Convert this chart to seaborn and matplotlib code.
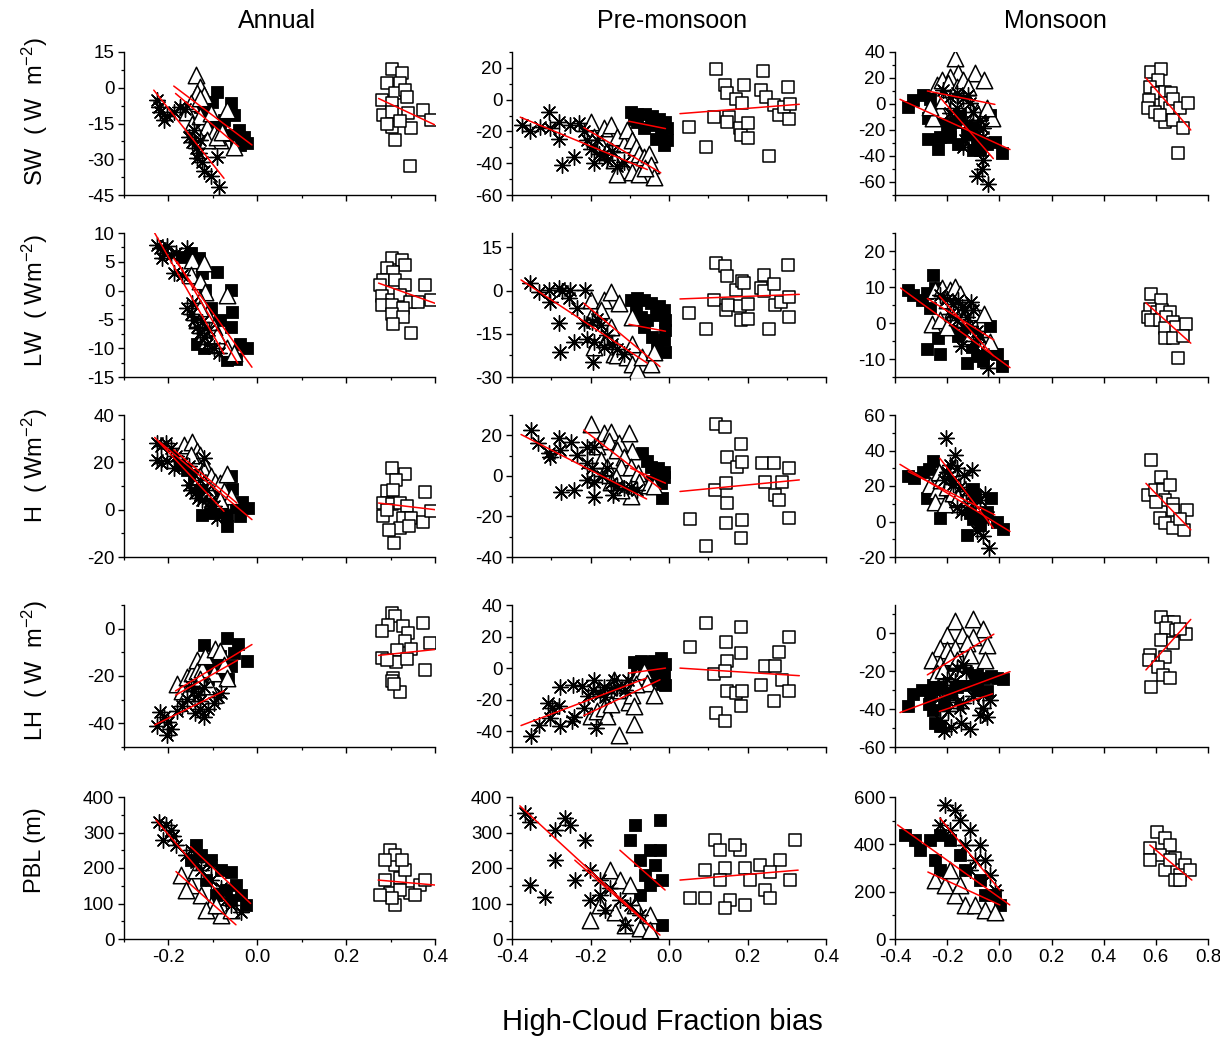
import numpy as np
import pandas as pd
import matplotlib
matplotlib.use("Agg")
import matplotlib.pyplot as plt
import seaborn as sns
from matplotlib.ticker import FixedLocator, AutoMinorLocator, NullLocator, FormatStrFormatter, NullFormatter

# ---------------- data (x = high-cloud fraction bias, y = bias of variable) ----------------
# groups: ast = asterisks, fsq = filled squares, tri = open triangles, osq = open squares
# fits: regression line end points, order ast, fsq, tri, osq

sw_ann_ast = [(-0.225,-5),(-0.218,-10),(-0.210,-13.5),(-0.203,-12),(-0.221,-8),(-0.188,-10),(-0.173,-8),(-0.162,-9),(-0.154,-20.5),(-0.147,-22.6),(-0.139,-25.4),(-0.132,-27.5),(-0.135,-29.6),(-0.124,-31),(-0.120,-35),(-0.105,-37),(-0.090,-29),(-0.087,-41.5),(-0.143,-17.7),(-0.128,-22)]
sw_ann_fsq = [(-0.090,-1.7),(-0.060,-6.6),(-0.053,-11.4),(-0.042,-17.7),(-0.031,-20.5),(-0.023,-23.3),(-0.128,-8),(-0.113,-12),(-0.098,-15.6),(-0.083,-17),(-0.068,-19.8),(-0.049,-22),(-0.038,-24),(-0.12,-10),(-0.102,-5.9),(-0.075,-13.5)]
sw_ann_tri = [(-0.139,5.3),(-0.128,0.4),(-0.135,-2.4),(-0.120,-3),(-0.150,-6.6),(-0.158,-10),(-0.147,-15),(-0.128,-12),(-0.113,-16.3),(-0.098,-19),(-0.083,-22),(-0.068,-9.3),(-0.053,-24.7),(-0.135,-19),(-0.113,-22),(-0.090,-20.5),(-0.128,-4.5),(-0.105,-10.7),(-0.079,-18.4)]
sw_ann_osq = [(0.303,7.7),(0.325,6),(0.291,1.8),(0.321,2),(0.310,-2),(0.333,-1),(0.280,-5),(0.303,-6.6),(0.336,-4),(0.284,-11.4),(0.303,-10),(0.340,-10.7),(0.374,-9.3),(0.392,-13.5),(0.303,-16.3),(0.347,-17),(0.310,-22),(0.344,-32.8),(0.321,-14),(0.291,-15)]
sw_ann_fits = [((-0.233,-1),(-0.075,-38)),((-0.188,0.7),(-0.012,-24)),((-0.184,-2.4),(-0.042,-24.7)),((0.273,-4.5),(0.4,-15.6))]

sw_pre_ast = [(-0.374,-16),(-0.353,-20),(-0.328,-17),(-0.306,-7.7),(-0.302,-18),(-0.281,-14),(-0.281,-24.5),(-0.272,-41),(-0.243,-36),(-0.251,-16),(-0.23,-15),(-0.217,-20),(-0.209,-25.5),(-0.2,-31),(-0.191,-40),(-0.179,-34),(-0.166,-34),(-0.157,-38),(-0.145,-32),(-0.132,-42),(-0.115,-39),(-0.183,-25.5)]
sw_pre_fsq = [(-0.098,-7.7),(-0.081,-8.8),(-0.06,-8.8),(-0.043,-10.5),(-0.026,-12),(-0.009,-14),(-0.004,-18),(-0.004,-25.5),(-0.013,-28.7),(-0.081,-14),(-0.047,-16),(-0.021,-20),(-0.034,-24.5),(-0.064,-18),(-0.089,-12)]
sw_pre_tri = [(-0.2,-14),(-0.166,-18),(-0.149,-16),(-0.132,-23.5),(-0.191,-23.5),(-0.174,-27.6),(-0.115,-27.6),(-0.106,-19),(-0.094,-25.5),(-0.085,-30),(-0.077,-34),(-0.064,-36),(-0.051,-34),(-0.047,-41),(-0.038,-48.6),(-0.115,-44),(-0.132,-46.5),(-0.094,-45.4),(-0.157,-32),(-0.14,-38),(-0.077,-46.5),(-0.06,-43)]
sw_pre_osq = [(0.051,-17),(0.094,-30),(0.119,19),(0.115,-11),(0.142,9),(0.149,4),(0.153,-11),(0.149,-14),(0.17,0.6),(0.181,-17.6),(0.183,-22),(0.191,9),(0.187,-2),(0.2,-14.7),(0.2,-24),(0.24,18),(0.234,6),(0.247,1.7),(0.255,-35.6),(0.268,-3.6),(0.281,-9.8),(0.294,-4.6),(0.302,8),(0.306,-12),(0.309,-2.5)]
sw_pre_fits = [((-0.379,-11),(-0.055,-44)),((-0.102,-13.6),(-0.009,-18.2)),((-0.217,-17.6),(-0.021,-46)),((0.028,-8.8),(0.332,-2.9))]

sw_mon_ast = [(-0.215,10.8),(-0.189,5.7),(-0.164,8.3),(-0.138,4.4),(-0.119,7),(-0.113,0.5),(-0.1,-6),(-0.189,-7.2),(-0.151,-12.4),(-0.125,-15),(-0.106,-22.7),(-0.087,-17.5),(-0.074,-12.4),(-0.062,-18.8),(-0.062,-25.3),(-0.138,-33),(-0.087,-55),(-0.068,-49.8),(-0.042,-61.4),(-0.062,-43.4),(-0.164,-3.4),(-0.132,-27.9)]
sw_mon_fsq = [(-0.349,-2),(-0.33,3),(-0.291,7),(-0.266,3.6),(-0.272,-11),(-0.24,-12.4),(-0.272,-26.6),(-0.234,-34.3),(-0.228,-25.3),(-0.189,-20),(-0.17,-13.7),(-0.151,-8.5),(-0.125,-22.7),(-0.106,-18),(-0.087,-28),(-0.074,-35.6),(-0.049,-30.5),(-0.036,-8.5),(-0.017,-29),(0.009,-38),(-0.189,-25.3),(-0.157,-30.5),(-0.1,-35.6),(-0.253,-4.6),(-0.202,-16)]
sw_mon_tri = [(-0.17,35.4),(-0.157,23.7),(-0.189,21),(-0.24,14.7),(-0.221,18.6),(-0.196,16),(-0.164,13.4),(-0.138,18.6),(-0.093,23.7),(-0.059,18.6),(-0.119,13.4),(-0.087,-6),(-0.03,-11),(-0.228,-4.6),(-0.253,-11),(-0.215,3),(-0.17,1.8),(-0.049,-3.4),(-0.266,-2)]
sw_mon_osq = [(0.583,25),(0.618,26.8),(0.609,18.6),(0.577,13.4),(0.603,8.8),(0.634,9.5),(0.657,8.3),(0.574,3),(0.571,-3.4),(0.634,0.5),(0.654,-3.4),(0.666,3.6),(0.692,-3.4),(0.724,0.5),(0.634,-13.7),(0.666,-12),(0.705,-18.8),(0.686,-38),(0.596,-6),(0.615,-8.5)]
sw_mon_fits = [((-0.23,5.7),(-0.023,-42)),((-0.381,3.6),(0.041,-35)),((-0.276,10),(-0.017,-0.3)),((0.562,20),(0.734,-20))]

lw_ann_ast = [(-0.225,8),(-0.218,7.4),(-0.21,6.5),(-0.203,7.7),(-0.214,5.6),(-0.195,6.2),(-0.184,6.5),(-0.158,7.4),(-0.188,3),(-0.169,2.7),(-0.158,-3.1),(-0.15,-4),(-0.143,-5.1),(-0.135,-6.3),(-0.128,-7.4),(-0.12,-8),(-0.113,-9.2),(-0.098,-10),(-0.087,-10.9),(-0.147,-2.2),(-0.124,-5.4),(-0.109,-6.9)]
lw_ann_fsq = [(-0.169,5.9),(-0.15,6.5),(-0.132,5.6),(-0.124,3),(-0.09,3.3),(-0.06,0.1),(-0.057,-3.7),(-0.06,-6.3),(-0.083,-5.1),(-0.105,-3.1),(-0.117,0.1),(-0.135,-9.2),(-0.12,-10),(-0.098,-8),(-0.068,-12),(-0.049,-11.8),(-0.038,-9.2),(-0.023,-10)]
lw_ann_tri = [(-0.147,5.3),(-0.119,4.8),(-0.15,2.7),(-0.128,1.6),(-0.117,-0.2),(-0.128,-1.6),(-0.068,-0.8),(-0.113,-4),(-0.098,-6.3),(-0.12,-7.4),(-0.113,-8.6),(-0.083,-9.2),(-0.068,-10),(-0.053,-10.9),(-0.135,-5.1),(-0.09,-7.7),(-0.128,-3.1)]
lw_ann_osq = [(0.303,5.6),(0.325,5.3),(0.332,4.5),(0.291,3.9),(0.306,3.3),(0.284,1.9),(0.31,1.9),(0.332,1),(0.276,1),(0.377,1),(0.28,-1),(0.303,-1.6),(0.321,-0.8),(0.344,-1.9),(0.28,-2.5),(0.303,-2.5),(0.329,-3.1),(0.303,-4),(0.329,-4.5),(0.306,-5.8),(0.347,-7.3),(0.362,-1.9),(0.392,-1.6)]
lw_ann_fits = [((-0.231,10),(-0.075,-11)),((-0.188,5.6),(-0.012,-13.3)),((-0.18,5),(-0.044,-12.6)),((0.273,1.3),(0.4,-2.2))]

lw_pre_ast = [(-0.353,2.8),(-0.332,-0.4),(-0.306,0.2),(-0.302,-3.9),(-0.281,0.8),(-0.272,0),(-0.251,0.2),(-0.255,-2.7),(-0.234,-6.2),(-0.213,0.2),(-0.217,-11.4),(-0.281,-11.4),(-0.277,-21.4),(-0.243,-17.9),(-0.209,-16.7),(-0.196,-10.9),(-0.191,-17.9),(-0.174,-12),(-0.183,-9.7),(-0.157,-15.5),(-0.145,-18.4),(-0.132,-20.2),(-0.115,-21.9),(-0.193,-24.9),(-0.166,-19.6)]
lw_pre_fsq = [(-0.098,-3.3),(-0.081,-2.7),(-0.064,-3.3),(-0.047,-4.4),(-0.026,-5.4),(-0.013,-6.8),(-0.009,-10.3),(-0.009,-13.8),(-0.013,-17.3),(-0.009,-21.4),(-0.03,-19.6),(-0.055,-10.3),(-0.034,-8.5),(-0.085,-6.2),(-0.064,-12.6),(-0.043,-16.1),(-0.072,-9.1)]
lw_pre_tri = [(-0.2,-3.3),(-0.166,-3.3),(-0.149,-0.4),(-0.128,-4.4),(-0.094,-9.1),(-0.174,-6.8),(-0.2,-9.1),(-0.191,-19.6),(-0.157,-16.1),(-0.14,-21.9),(-0.132,-22.5),(-0.106,-23.1),(-0.094,-25.4),(-0.081,-27.5),(-0.068,-23.1),(-0.047,-25.4),(-0.037,-21.4),(-0.094,-18.4),(-0.149,-12.6)]
lw_pre_osq = [(0.051,-7.9),(0.094,-13.2),(0.119,9.6),(0.142,8.4),(0.147,4.9),(0.115,-3.3),(0.145,-6.8),(0.151,-5),(0.17,0.2),(0.185,3.4),(0.181,-5.4),(0.191,2.6),(0.183,-10.3),(0.2,-4.7),(0.2,-9.7),(0.234,0.8),(0.243,5.5),(0.243,0),(0.255,-13.2),(0.268,2.3),(0.27,-5),(0.285,-3.9),(0.302,9),(0.306,-9.3),(0.306,-2.3)]
lw_pre_fits = [((-0.377,3.7),(-0.055,-25.2)),((-0.102,-11.7),(-0.009,-14.1)),((-0.217,-4.4),(-0.023,-26.4)),((0.028,-2.9),(0.332,-1.3))]

lw_mon_ast = [(-0.228,7.8),(-0.202,6.8),(-0.176,5.4),(-0.157,6.4),(-0.145,4.5),(-0.132,3.6),(-0.11,5.9),(-0.1,3.6),(-0.189,2.6),(-0.164,0.7),(-0.138,-1.1),(-0.113,-0.7),(-0.087,-2.1),(-0.074,-3.9),(-0.148,-6.3),(-0.062,-8.6),(-0.042,-12.4),(-0.1,-4.9),(-0.125,1.7)]
lw_mon_fsq = [(-0.349,9.2),(-0.33,7.8),(-0.298,6.4),(-0.276,8.2),(-0.253,13.4),(-0.247,9.7),(-0.266,4.3),(-0.234,-4.1),(-0.276,-7.2),(-0.228,-8.6),(-0.189,-1.6),(-0.157,-3.5),(-0.125,-2.1),(-0.106,-6.7),(-0.123,-11),(-0.087,-9.1),(-0.049,-8.2),(-0.036,-0.9),(-0.01,-8.6),(0.009,-11.9),(-0.062,-10.5)]
lw_mon_tri = [(-0.247,9.2),(-0.221,9.7),(-0.189,9.2),(-0.17,10.1),(-0.151,8.1),(-0.202,6.4),(-0.26,-0.2),(-0.228,0.7),(-0.202,-1.1),(-0.164,1.7),(-0.138,0.9),(-0.093,3.1),(-0.059,2.6),(-0.036,-5.3),(-0.087,-3),(-0.113,-3.5),(-0.176,4)]
lw_mon_osq = [(0.583,8.1),(0.618,6.4),(0.577,4),(0.571,1.7),(0.605,3.1),(0.622,3.6),(0.654,3.1),(0.583,0.7),(0.615,0.7),(0.638,1.7),(0.666,0.3),(0.634,-1.3),(0.679,-1.1),(0.717,-0.4),(0.634,-4.1),(0.666,-4.1),(0.705,-3.5),(0.686,-9.6)]
lw_mon_fits = [((-0.23,7.5),(-0.023,-9.1)),((-0.378,9.7),(0.041,-12.4)),((-0.276,6.8),(-0.021,-4.7)),((0.562,5.6),(0.734,-5.6))]

h_ann_ast = [(-0.225,28.1),(-0.216,26.7),(-0.206,28.1),(-0.195,26),(-0.225,21.1),(-0.216,19.7),(-0.203,20.4),(-0.188,17.6),(-0.184,22.5),(-0.169,19.7),(-0.154,18.3),(-0.154,10.5),(-0.149,8.4),(-0.141,7),(-0.134,4.9),(-0.124,4.2),(-0.12,21.8),(-0.113,8.4),(-0.107,3.5),(-0.098,1.4),(-0.09,-3.5),(-0.081,-2.1),(-0.128,12.6)]
h_ann_fsq = [(-0.173,19),(-0.158,16.9),(-0.143,14.1),(-0.128,10.5),(-0.119,5.6),(-0.124,-2.1),(-0.098,0),(-0.079,3.5),(-0.068,-2.1),(-0.068,-7),(-0.057,8.7),(-0.06,14.3),(-0.049,1.1),(-0.038,-2.8),(-0.022,0.7),(-0.034,3.1),(-0.09,5.6),(-0.107,-1.4)]
h_ann_tri = [(-0.165,27.4),(-0.147,28.4),(-0.135,24.6),(-0.128,23.2),(-0.137,20.4),(-0.117,18.3),(-0.119,16.2),(-0.105,14.1),(-0.096,11.9),(-0.083,11.2),(-0.068,15.2),(-0.075,7.7),(-0.06,5.6),(-0.109,8.4),(-0.128,14.1),(-0.083,4.2),(-0.15,23.2)]
h_ann_osq = [(0.303,17.6),(0.332,15.2),(0.312,12.6),(0.291,7.7),(0.306,8.2),(0.377,7.3),(0.284,2.8),(0.303,2.5),(0.321,2.8),(0.336,1.4),(0.284,-2.8),(0.329,-3.5),(0.347,-3.5),(0.321,-7.7),(0.342,-7),(0.374,-5.3),(0.297,-8.4),(0.308,-14),(0.39,-0.7),(0.291,0)]
h_ann_fits = [((-0.231,30.5),(-0.075,-0.7)),((-0.221,28.8),(-0.012,-4.2)),((-0.188,25.3),(-0.046,2.8)),((0.273,2.8),(0.4,0))]

h_pre_ast = [(-0.351,22.6),(-0.334,16),(-0.306,11.1),(-0.302,9.2),(-0.281,18.5),(-0.277,12.8),(-0.249,16.8),(-0.234,10.3),(-0.209,14.4),(-0.19,14.4),(-0.209,6.2),(-0.196,3.8),(-0.209,-2),(-0.19,-2.8),(-0.17,-0.3),(-0.157,3.8),(-0.149,-3.6),(-0.132,-4.9),(-0.115,-6.1),(-0.098,-5.6),(-0.081,-6.9),(-0.275,-8.2),(-0.243,-6.9),(-0.191,-10.5),(-0.142,-9.3)]
h_pre_fsq = [(-0.068,11.1),(-0.055,7.5),(-0.047,4.6),(-0.028,3.8),(-0.014,2.1),(-0.013,-0.7),(-0.02,-3.6),(-0.043,-2.3),(-0.034,0.5),(-0.017,-11)]
h_pre_tri = [(-0.2,25.5),(-0.166,20.9),(-0.149,21.7),(-0.153,17.3),(-0.128,16.4),(-0.102,20.9),(-0.094,12.4),(-0.132,12.8),(-0.183,14.7),(-0.174,7.8),(-0.157,4.6),(-0.115,9.2),(-0.122,4.6),(-0.098,4.6),(-0.079,1.6),(-0.136,-0.7),(-0.098,-9.8),(-0.123,-6.9),(-0.077,-2.8),(-0.051,-4.4),(-0.038,-4.9),(-0.149,-2.8)]
h_pre_osq = [(0.054,-21.3),(0.094,-34.7),(0.119,25.5),(0.142,24.2),(0.117,-7.2),(0.147,9.2),(0.146,-3.6),(0.147,-13.4),(0.146,-23.2),(0.183,15.7),(0.173,4.6),(0.185,7),(0.185,-21.9),(0.183,-30.6),(0.236,6.5),(0.268,6.2),(0.244,-2.8),(0.306,3.8),(0.289,-2.8),(0.27,-9.3),(0.281,-11.8),(0.306,-20.8)]
h_pre_fits = [((-0.377,20.4),(-0.057,-11.4)),((-0.098,3.8),(-0.009,-3.6)),((-0.217,22.6),(-0.021,-6.5)),((0.028,-7.7),(0.332,-2))]

h_mon_ast = [(-0.205,46.8),(-0.17,37.5),(-0.189,31.9),(-0.161,30),(-0.136,26.2),(-0.106,29),(-0.212,23.4),(-0.176,21.2),(-0.151,19.3),(-0.128,17.4),(-0.11,15),(-0.164,8.1),(-0.148,5.6),(-0.1,10.3),(-0.074,12.2),(-0.055,15.5),(-0.123,6.6),(-0.087,-5.6),(-0.062,-8.4),(-0.039,-15),(-0.042,2.4),(-0.2,28.1)]
h_mon_fsq = [(-0.349,25.7),(-0.327,24.4),(-0.291,28.1),(-0.253,34.1),(-0.268,29.4),(-0.228,26.2),(-0.276,13.1),(-0.228,1.9),(-0.24,17.8),(-0.189,14.1),(-0.164,12.2),(-0.1,18.2),(-0.093,14.1),(-0.113,4.7),(-0.1,1.3),(-0.125,-7.5),(-0.072,2.4),(-0.049,5.6),(-0.033,13.1),(-0.01,0),(0.015,-4.3),(-0.074,-1.9),(-0.189,23.4)]
h_mon_tri = [(-0.266,20.6),(-0.24,17.8),(-0.247,11.2),(-0.208,9.9),(-0.23,28.1),(-0.225,23.4),(-0.2,19.3),(-0.176,16.3),(-0.157,13.7),(-0.183,30)]
h_mon_osq = [(0.583,34.7),(0.618,24.9),(0.571,15),(0.596,17.8),(0.626,17.8),(0.654,20.6),(0.634,12.2),(0.666,9.9),(0.666,6.2),(0.72,6.6),(0.615,1.9),(0.634,-0.9),(0.666,-3.7),(0.707,-4.7),(0.692,1.3),(0.6,11.2)]
h_mon_fits = [((-0.228,35.6),(-0.023,-3.7)),((-0.381,32.2),(0.041,-5.6)),((-0.349,28.1),(-0.017,3.7)),((0.562,21.5),(0.734,-4.7))]

lh_ann_ast = [(-0.219,-35.1),(-0.209,-37.5),(-0.201,-39.6),(-0.195,-42.4),(-0.204,-44.9),(-0.225,-41),(-0.18,-34.7),(-0.169,-32.6),(-0.158,-29.8),(-0.143,-26.3),(-0.134,-28.1),(-0.128,-30.5),(-0.128,-34),(-0.141,-35.7),(-0.119,-37.5),(-0.111,-34),(-0.098,-31.2),(-0.089,-28.7),(-0.081,-27),(-0.15,-24.2),(-0.119,-24.5)]
lh_ann_fsq = [(-0.119,-6.7),(-0.069,-3.9),(-0.044,-6.3),(-0.023,-13.7),(-0.053,-10.2),(-0.06,-15.8),(-0.083,-11.6),(-0.098,-13.3),(-0.113,-16.1),(-0.089,-18.9),(-0.111,-21.1),(-0.066,-21.1),(-0.128,-23.1)]
lh_ann_tri = [(-0.18,-23.5),(-0.169,-26.3),(-0.158,-20.3),(-0.147,-18.6),(-0.135,-13.3),(-0.135,-17.9),(-0.124,-17.2),(-0.117,-11.6),(-0.096,-8.8),(-0.084,-9.5),(-0.098,-18.6),(-0.075,-15.5),(-0.068,-20.7),(-0.128,-21.4),(-0.109,-24.2),(-0.158,-27)]
lh_ann_osq = [(0.303,6.6),(0.31,5.2),(0.329,1),(0.295,1.7),(0.28,-1.1),(0.34,-1.8),(0.374,2.4),(0.332,-5.3),(0.389,-6),(0.315,-9.1),(0.347,-8.8),(0.28,-12.3),(0.312,-14.1),(0.291,-13.3),(0.336,-13),(0.306,-20.7),(0.303,-22.1),(0.321,-26.7),(0.377,-17.5),(0.308,-23.5)]
lh_ann_fits = [((-0.231,-40.7),(-0.075,-26.3)),((-0.184,-26.3),(-0.012,-6.7)),((-0.184,-28.1),(-0.044,-13.3)),((0.273,-11.3),(0.4,-8.8))]

lh_pre_ast = [(-0.351,-43.2),(-0.332,-35.8),(-0.309,-22.1),(-0.298,-25.3),(-0.278,-12.2),(-0.281,-24.2),(-0.277,-36.4),(-0.244,-10.5),(-0.241,-30.9),(-0.221,-11.6),(-0.217,-25.3),(-0.207,-17.5),(-0.193,-14.1),(-0.19,-7.4),(-0.187,-37.9),(-0.176,-16.2),(-0.164,-18.3),(-0.149,-14.1),(-0.139,-7.8),(-0.132,-12),(-0.113,-14.1),(-0.105,-7.8),(-0.302,-31.6),(-0.247,-33.7),(-0.166,-12)]
lh_pre_fsq = [(-0.089,3.6),(-0.072,4.2),(-0.055,3.6),(-0.038,4.2),(-0.02,6.7),(-0.011,2.7),(-0.013,-5.3),(-0.017,-9.9),(-0.034,-7.8),(-0.055,-3.6),(-0.081,-0.6),(-0.045,-0.6),(-0.028,-2.7),(-0.009,-10.5)]
lh_pre_tri = [(-0.2,-30.5),(-0.183,-27.4),(-0.166,-25.3),(-0.157,-30.1),(-0.14,-7.4),(-0.132,-10.5),(-0.123,-13.7),(-0.106,-10.5),(-0.102,-21.7),(-0.094,-16.8),(-0.089,-24.2),(-0.089,-35.2),(-0.128,-42.1),(-0.081,-4.8),(-0.064,-2.1),(-0.055,-9.5),(-0.037,-16.8),(-0.149,-22.5),(-0.085,-9.9)]
lh_pre_osq = [(0.054,13.3),(0.094,28.4),(0.119,-28.4),(0.142,-33.7),(0.115,-3.6),(0.145,16.8),(0.147,4.2),(0.142,-2.1),(0.147,-14.7),(0.17,-15.8),(0.183,26.3),(0.183,9.5),(0.185,-14.7),(0.183,-24.2),(0.234,-10.5),(0.244,1.5),(0.27,1.1),(0.268,-21.1),(0.281,10.5),(0.289,-7.4),(0.306,20),(0.306,-14.7)]
lh_pre_fits = [((-0.377,-36.4),(-0.057,-6.3)),((-0.102,-3.2),(-0.009,0)),((-0.217,-30.1),(-0.023,-7.4)),((0.028,0),(0.332,-4.8))]

lh_mon_ast = [(-0.215,-27.2),(-0.2,-24.2),(-0.164,-18.4),(-0.138,-16.7),(-0.128,-19.6),(-0.17,-25.4),(-0.189,-29.8),(-0.24,-31.6),(-0.202,-35.1),(-0.164,-36),(-0.138,-36.8),(-0.1,-33.3),(-0.062,-32.5),(-0.036,-35.1),(-0.062,-39.5),(-0.074,-43),(-0.049,-43.9),(-0.212,-51.8),(-0.187,-49.5),(-0.148,-47.4),(-0.113,-50.5),(-0.228,-45.6),(-0.151,-39.5),(-0.196,-41.2)]
lh_mon_fsq = [(-0.349,-38.6),(-0.332,-31.9),(-0.298,-29.8),(-0.253,-27.2),(-0.266,-33.3),(-0.268,-37.2),(-0.253,-40.7),(-0.247,-47.4),(-0.228,-49.1),(-0.212,-37.2),(-0.187,-31.6),(-0.161,-28.1),(-0.123,-27.2),(-0.125,-21),(-0.1,-24.6),(-0.087,-21.9),(-0.059,-23.7),(-0.033,-22.5),(-0.01,-23.7),(0.015,-24.2),(-0.046,-30.2),(-0.085,-29.8),(-0.176,-16.7),(-0.228,-28.9)]
lh_mon_tri = [(-0.17,6.7),(-0.1,7.4),(-0.062,2.1),(-0.202,-0.9),(-0.145,-0.9),(-0.1,-1.8),(-0.049,-6.1),(-0.228,-7.9),(-0.2,-8.8),(-0.17,-7.9),(-0.123,-5.3),(-0.26,-14),(-0.228,-16.1),(-0.189,-12.3),(-0.164,-14),(-0.113,-11.4),(-0.055,-14),(-0.24,-21),(-0.145,-20.2),(-0.215,-19.3)]
lh_mon_osq = [(0.618,8.8),(0.647,6.1),(0.669,6.1),(0.638,2.6),(0.677,1.8),(0.715,-0.4),(0.618,-3.5),(0.666,-5.3),(0.577,-11.4),(0.574,-14),(0.634,-12.3),(0.609,-17.5),(0.626,-21.9),(0.654,-23.7),(0.583,-28.1),(0.692,2.1)]
lh_mon_fits = [((-0.23,-41.2),(-0.026,-31.9)),((-0.381,-41.8),(0.041,-20.2)),((-0.276,-21.9),(-0.021,-0.4)),((0.562,-19.3),(0.734,7.4))]

pbl_ann_ast = [(-0.221,330),(-0.212,279),(-0.195,307),(-0.183,265),(-0.161,237),(-0.138,217),(-0.127,194),(-0.105,166),(-0.082,144),(-0.071,110),(-0.105,208),(-0.15,251),(-0.06,96),(-0.037,76),(-0.205,320),(-0.19,290)]
pbl_ann_fsq = [(-0.138,265),(-0.127,237),(-0.105,222),(-0.082,194),(-0.06,189),(-0.048,152),(-0.037,124),(-0.026,96),(-0.071,138),(-0.094,124),(-0.116,166),(-0.15,222),(-0.06,110)]
pbl_ann_tri = [(-0.172,180),(-0.15,152),(-0.127,124),(-0.105,96),(-0.116,82),(-0.161,138),(-0.082,68),(-0.094,96),(-0.138,194),(-0.06,82)]
pbl_ann_osq = [(0.299,251),(0.31,208),(0.321,172),(0.288,166),(0.299,130),(0.344,130),(0.31,96),(0.333,194),(0.366,152),(0.377,166),(0.31,237),(0.288,222),(0.321,138),(0.355,124),(0.303,115),(0.326,222),(0.277,124)]
pbl_ann_fits = [((-0.228,335),(-0.06,90)),((-0.15,260),(-0.015,100)),((-0.183,190),(-0.048,40)),((0.272,166),(0.4,152))]

pbl_pre_ast = [(-0.367,355),(-0.354,330),(-0.29,307),(-0.265,341),(-0.252,321),(-0.214,279),(-0.354,152),(-0.316,118),(-0.29,222),(-0.24,166),(-0.201,194),(-0.176,166),(-0.15,144),(-0.125,110),(-0.163,82),(-0.099,96),(-0.074,68),(-0.112,39),(-0.201,110),(-0.176,124)]
pbl_pre_fsq = [(-0.087,321),(-0.023,335),(-0.048,251),(-0.074,222),(-0.023,251),(-0.036,208),(-0.061,180),(-0.018,166),(-0.074,124),(-0.048,152),(-0.018,39),(-0.099,279)]
pbl_pre_tri = [(-0.15,194),(-0.125,166),(-0.099,152),(-0.176,96),(-0.138,76),(-0.112,39),(-0.074,31),(-0.048,68),(-0.087,96),(-0.201,54),(-0.048,25)]
pbl_pre_osq = [(0.053,115),(0.092,115),(0.117,279),(0.13,251),(0.143,200),(0.13,166),(0.155,110),(0.181,251),(0.193,200),(0.193,96),(0.168,265),(0.232,208),(0.244,138),(0.257,115),(0.308,166),(0.321,279),(0.283,222),(0.143,87),(0.092,194),(0.257,189),(0.206,166)]
pbl_pre_fits = [((-0.38,375),(-0.036,25)),((-0.125,250),(-0.01,138)),((-0.24,222),(-0.023,11)),((0.028,166),(0.329,194))]

pbl_mon_ast = [(-0.208,566),(-0.17,545),(-0.151,503),(-0.113,460),(-0.074,397),(-0.189,460),(-0.132,397),(-0.093,334),(-0.055,334),(-0.036,270),(-0.017,207),(-0.113,291),(-0.228,482)]
pbl_mon_fsq = [(-0.362,439),(-0.323,418),(-0.266,418),(-0.228,439),(-0.189,418),(-0.304,376),(-0.247,334),(-0.151,355),(-0.132,291),(-0.074,249),(-0.017,186),(0.002,144),(-0.055,186),(-0.228,291)]
pbl_mon_tri = [(-0.247,249),(-0.208,228),(-0.17,186),(-0.132,144),(-0.093,144),(-0.055,122),(-0.189,291),(-0.017,114),(-0.151,228)]
pbl_mon_osq = [(0.604,452),(0.634,427),(0.654,397),(0.577,384),(0.615,355),(0.672,342),(0.711,313),(0.692,270),(0.634,291),(0.577,334),(0.73,291),(0.672,249),(0.692,249),(0.654,334)]
pbl_mon_fits = [((-0.228,511),(0.002,207)),((-0.39,482),(0.04,144)),((-0.274,283),(0.002,144)),((0.577,397),(0.738,249))]

col_titles = ["Annual", "Pre-monsoon", "Monsoon"]
row_labels = [r"SW  ( W  m$^{-2}$)", r"LW  ( Wm$^{-2}$)", r"H  ( Wm$^{-2}$)", r"LH  ( W  m$^{-2}$)", "PBL (m)"]
x_label = "High-Cloud Fraction bias"

col_xlims = [(-0.3, 0.4), (-0.4, 0.4), (-0.4, 0.8)]
col_xticks = [[-0.2, 0.0, 0.2, 0.4], [-0.4, -0.2, 0.0, 0.2, 0.4], [-0.4, -0.2, 0.0, 0.2, 0.4, 0.6, 0.8]]
col_xminor = [[-0.3, -0.1, 0.1, 0.3], [-0.3, -0.1, 0.1, 0.3], []]

row_ylims = [[(-45, 15), (-60, 30), (-70, 40)],
             [(-15, 10), (-30, 20), (-15, 25)],
             [(-20, 40), (-40, 30), (-20, 60)],
             [(-50, 10), (-50, 40), (-60, 15)],
             [(0, 400), (0, 400), (0, 600)]]
row_yticks = [[[-45, -30, -15, 0, 15], [-60, -40, -20, 0, 20], [-60, -40, -20, 0, 20, 40]],
              [[-15, -10, -5, 0, 5, 10], [-30, -15, 0, 15], [-10, 0, 10, 20]],
              [[-20, 0, 20, 40], [-40, -20, 0, 20], [-20, 0, 20, 40, 60]],
              [[-40, -20, 0], [-40, -20, 0, 20, 40], [-60, -40, -20, 0]],
              [[0, 100, 200, 300, 400], [0, 100, 200, 300, 400], [0, 200, 400, 600]]]

panels = [
    [(sw_ann_ast, sw_ann_fsq, sw_ann_tri, sw_ann_osq, sw_ann_fits),
     (sw_pre_ast, sw_pre_fsq, sw_pre_tri, sw_pre_osq, sw_pre_fits),
     (sw_mon_ast, sw_mon_fsq, sw_mon_tri, sw_mon_osq, sw_mon_fits)],
    [(lw_ann_ast, lw_ann_fsq, lw_ann_tri, lw_ann_osq, lw_ann_fits),
     (lw_pre_ast, lw_pre_fsq, lw_pre_tri, lw_pre_osq, lw_pre_fits),
     (lw_mon_ast, lw_mon_fsq, lw_mon_tri, lw_mon_osq, lw_mon_fits)],
    [(h_ann_ast, h_ann_fsq, h_ann_tri, h_ann_osq, h_ann_fits),
     (h_pre_ast, h_pre_fsq, h_pre_tri, h_pre_osq, h_pre_fits),
     (h_mon_ast, h_mon_fsq, h_mon_tri, h_mon_osq, h_mon_fits)],
    [(lh_ann_ast, lh_ann_fsq, lh_ann_tri, lh_ann_osq, lh_ann_fits),
     (lh_pre_ast, lh_pre_fsq, lh_pre_tri, lh_pre_osq, lh_pre_fits),
     (lh_mon_ast, lh_mon_fsq, lh_mon_tri, lh_mon_osq, lh_mon_fits)],
    [(pbl_ann_ast, pbl_ann_fsq, pbl_ann_tri, pbl_ann_osq, pbl_ann_fits),
     (pbl_pre_ast, pbl_pre_fsq, pbl_pre_tri, pbl_pre_osq, pbl_pre_fits),
     (pbl_mon_ast, pbl_mon_fsq, pbl_mon_tri, pbl_mon_osq, pbl_mon_fits)],
]

# ---------------- styling ----------------
sns.set_theme(style="ticks")
plt.rcParams['font.family'] = ['Liberation Sans', 'DejaVu Sans']
plt.rcParams['axes.unicode_minus'] = False
plt.rcParams['mathtext.fontset'] = 'custom'
plt.rcParams['mathtext.rm'] = 'Liberation Sans'
plt.rcParams['mathtext.it'] = 'Liberation Sans'

W, H = 1220, 1039
fig = plt.figure(figsize=(W / 100, H / 100), dpi=100)
fig.patch.set_facecolor("white")

col_left = [124, 512, 895]
col_right = [435, 826, 1208]
row_top = [52, 233, 415, 605, 797]
row_bot = [195, 377, 557, 747, 939]

ASTER = (8, 2, 0)


def split(pts):
    a = np.array(pts, dtype=float)
    return a[:, 0], a[:, 1]


for r in range(5):
    for c in range(3):
        ast, fsq, tri, osq, fits = panels[r][c]
        l, rr = col_left[c], col_right[c]
        t, b = row_top[r], row_bot[r]
        ax = fig.add_axes([l / W, 1 - b / H, (rr - l) / W, (b - t) / H])
        ax.set_facecolor("white")

        x, y = split(fsq)
        sns.scatterplot(x=x, y=y, ax=ax, marker="s", s=80, color="black",
                        edgecolor="black", linewidth=0.6, zorder=2, legend=False)
        x, y = split(tri)
        sns.scatterplot(x=x, y=y, ax=ax, marker="^", s=140, color="white",
                        edgecolor="black", linewidth=1.1, zorder=3, legend=False)
        x, y = split(ast)
        sns.scatterplot(x=x, y=y, ax=ax, marker=ASTER, s=125, color="black",
                        linewidth=1.0, zorder=4, legend=False)
        x, y = split(osq)
        sns.scatterplot(x=x, y=y, ax=ax, marker="s", s=78, color="white",
                        edgecolor="black", linewidth=1.1, zorder=4, legend=False)

        for (p0, p1) in fits:
            fx = [p0[0], p1[0]]
            fy = [p0[1], p1[1]]
            sns.lineplot(x=fx, y=fy, ax=ax, color="red", linewidth=1.1,
                         zorder=6, legend=False, sort=False, estimator=None)

        ax.set_xlim(*col_xlims[c])
        ax.set_ylim(*row_ylims[r][c])
        ax.xaxis.set_major_locator(FixedLocator(col_xticks[c]))
        if col_xminor[c]:
            ax.xaxis.set_minor_locator(FixedLocator(col_xminor[c]))
        else:
            ax.xaxis.set_minor_locator(NullLocator())
        ax.yaxis.set_major_locator(FixedLocator(row_yticks[r][c]))
        ax.yaxis.set_minor_locator(AutoMinorLocator(2))
        ax.xaxis.set_major_formatter(FormatStrFormatter("%.1f"))
        ax.yaxis.set_major_formatter(FormatStrFormatter("%d"))
        if r < 4:
            ax.xaxis.set_major_formatter(NullFormatter())

        for side in ("top", "right"):
            ax.spines[side].set_visible(False)
        for side in ("left", "bottom"):
            ax.spines[side].set_linewidth(1.0)
            ax.spines[side].set_color("black")
        ax.tick_params(which="major", direction="out", length=4, width=1.0,
                       labelsize=13.5, color="black", labelcolor="black", pad=3)
        ax.tick_params(which="minor", direction="out", length=2.5, width=0.9, color="black")
        ax.set_xlabel("")
        ax.set_ylabel("")
        ax.grid(False)

# column titles
title_x = [277, 672, 1055]
for c in range(3):
    fig.text(title_x[c] / W, 1 - 21 / H, col_titles[c], ha="center", va="center",
             fontsize=18, color="black")

# row labels
label_y = [112, 300, 466, 670, 850]
for r in range(5):
    fig.text(35 / W, 1 - label_y[r] / H, row_labels[r], rotation=90, ha="center",
             va="center", fontsize=17, color="black")

fig.text(662 / W, 1 - 1022 / H, x_label, ha="center", va="center", fontsize=21, color="black")

fig.savefig("out.png", dpi=100, facecolor="white")
